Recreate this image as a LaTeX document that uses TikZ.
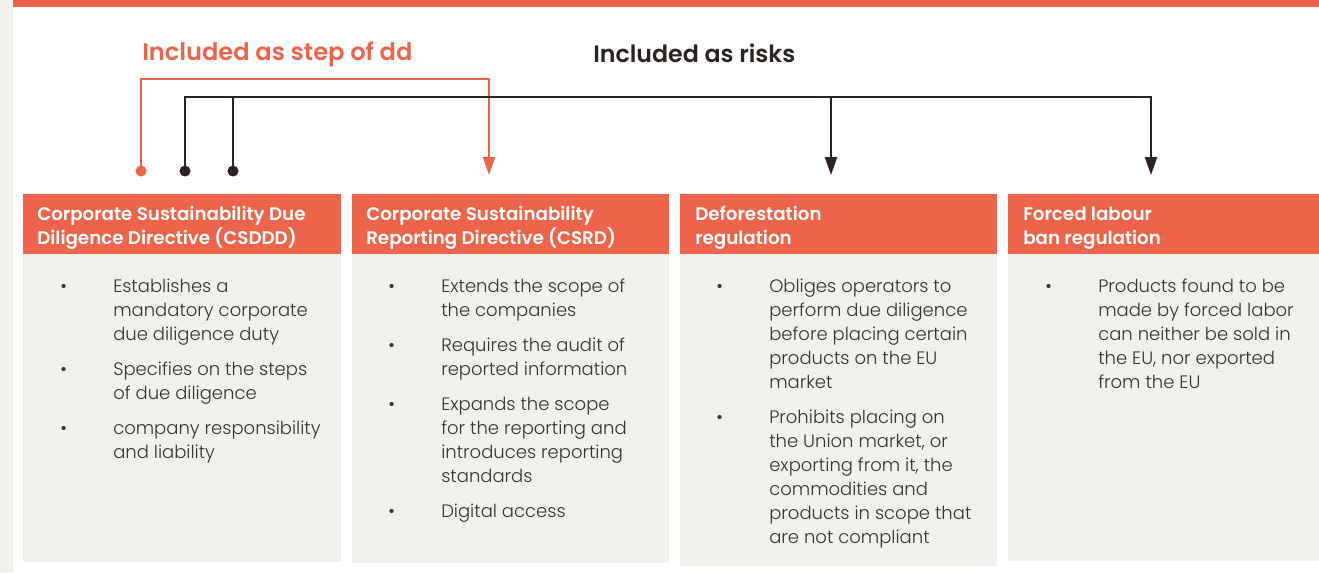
\documentclass[tikz,border=0pt]{standalone}
\usepackage{fontspec}
\setmainfont{Poppins}[UprightFont=* Light, BoldFont=* SemiBold]
\usetikzlibrary{arrows.meta,calc}
\definecolor{brand}{RGB}{238,100,74}
\definecolor{panel}{RGB}{241,241,236}
\definecolor{ink}{RGB}{43,35,32}
\definecolor{bodytext}{RGB}{55,50,47}
\newlength{\hng}\setlength{\hng}{39.75pt}
\newcommand{\bodyfont}{\fontsize{13.5}{18}\selectfont}
\newcommand{\itemline}{\par\vspace{8.25pt}}
\newcommand{\bl}{\hangindent=\hng\hangafter=1\noindent\makebox[\hng][l]{\textbullet}}
\begin{document}
\begin{tikzpicture}[x=0.75pt,y=-0.75pt,
  hdr/.style={fill=brand,anchor=north west,inner sep=0pt,minimum height=45pt},
  bodybox/.style={fill=panel,anchor=north west,inner sep=0pt},
  htext/.style={anchor=base west,inner sep=0pt,text=white,font=\bfseries\fontsize{13.7}{18}\selectfont},
  btext/.style={anchor=base west,inner sep=0pt,text=bodytext},
  dot/.style={circle,inner sep=0pt,minimum size=8.3pt},
  orangeline/.style={draw=brand,line width=1.5pt},
  inkline/.style={draw=ink,line width=1.8pt},
  tip/.style={-{Triangle[length=13.5pt,width=9pt]}}
]
\useasboundingbox (0,0) rectangle (1319,572);
\fill[white] (0,0) rectangle (1319,572);
\fill[panel] (0,0) rectangle (13,572);
\fill[brand] (13,0) rectangle (1319,7);

% titles
\node[anchor=base west,inner sep=0pt,text=brand,font=\bfseries\fontsize{18.1}{20}\selectfont] (tdd) at (142,60) {Included as step of dd};
\node[anchor=base west,inner sep=0pt,text=ink,font=\bfseries\fontsize{17.8}{20}\selectfont] (trisk) at (593,62) {Included as risks};

% boxes
\node[bodybox,minimum width={318*0.75pt},minimum height={308*0.75pt}] (b1) at (23,254) {};
\node[bodybox,minimum width={317*0.75pt},minimum height={309*0.75pt}] (b2) at (352,254) {};
\node[bodybox,minimum width={317*0.75pt},minimum height={312*0.75pt}] (b3) at (680,254) {};
\node[bodybox,minimum width={311*0.75pt},minimum height={307*0.75pt}] (b4) at (1008,254) {};
\node[hdr,minimum width={318*0.75pt}] (h1) at (23,194) {};
\node[hdr,minimum width={317*0.75pt}] (h2) at (352,194) {};
\node[hdr,minimum width={317*0.75pt}] (h3) at (680,194) {};
\node[hdr,minimum width={311*0.75pt}] (h4) at (1008,194) {};

% header texts
\node[htext] (ht1) at (37,220) {\parbox[t]{230pt}{Corporate Sustainability Due\\Diligence Directive (CSDDD)}};
\node[htext] (ht2) at (366,220) {\parbox[t]{230pt}{Corporate Sustainability\\Reporting Directive (CSRD)}};
\node[htext] (ht3) at (695,220) {\parbox[t]{230pt}{Deforestation\\regulation}};
\node[htext] (ht4) at (1023,220) {\parbox[t]{220pt}{Forced labour\\ban regulation}};

% body texts
\node[btext] (bt1) at (60,292) {\parbox[t]{230pt}{\bodyfont
\bl Establishes a\newline mandatory corporate\newline due diligence duty\itemline
\bl Specifies on the steps\newline of due diligence\itemline
\bl company responsibility\newline and liability}};
\node[btext] (bt2) at (388,292) {\parbox[t]{230pt}{\bodyfont
\bl Extends the scope of\newline the companies\itemline
\bl Requires the audit of\newline reported information\itemline
\bl Expands the scope\newline for the reporting and\newline introduces reporting\newline standards\itemline
\bl Digital access}};
\node[btext] (bt3) at (716,292) {\parbox[t]{230pt}{\bodyfont
\bl Obliges operators to\newline perform due diligence\newline before placing certain\newline products on the EU\newline market\itemline
\bl Prohibits placing on\newline the Union market, or\newline exporting from it, the\newline commodities and\newline products in scope that\newline are not compliant}};
\node[btext] (bt4) at (1045,292) {\parbox[t]{230pt}{\bodyfont
\bl Products found to be\newline made by forced labor\newline can neither be sold in\newline the EU, nor exported\newline from the EU}};

% connector ends
\node[dot,fill=brand] (d1) at (141,171) {};
\node[dot,fill=ink] (d2) at (185,171) {};
\node[dot,fill=ink] (d3) at (233,171) {};
\coordinate (t2) at (489,175);
\coordinate (t3) at (831,175);
\coordinate (t4) at (1151,175);
\coordinate (bus) at (0,97);

\draw[orangeline,tip] (d1.center) |- ($(t2)+(0,-96)$) -- (t2);
\draw[inkline,tip] (d2.center) |- (t4 |- bus) -- (t4);
\draw[inkline] (d3.center) -- (d3 |- bus);
\draw[inkline,tip] (t3 |- bus) -- (t3);
\end{tikzpicture}
\end{document}
